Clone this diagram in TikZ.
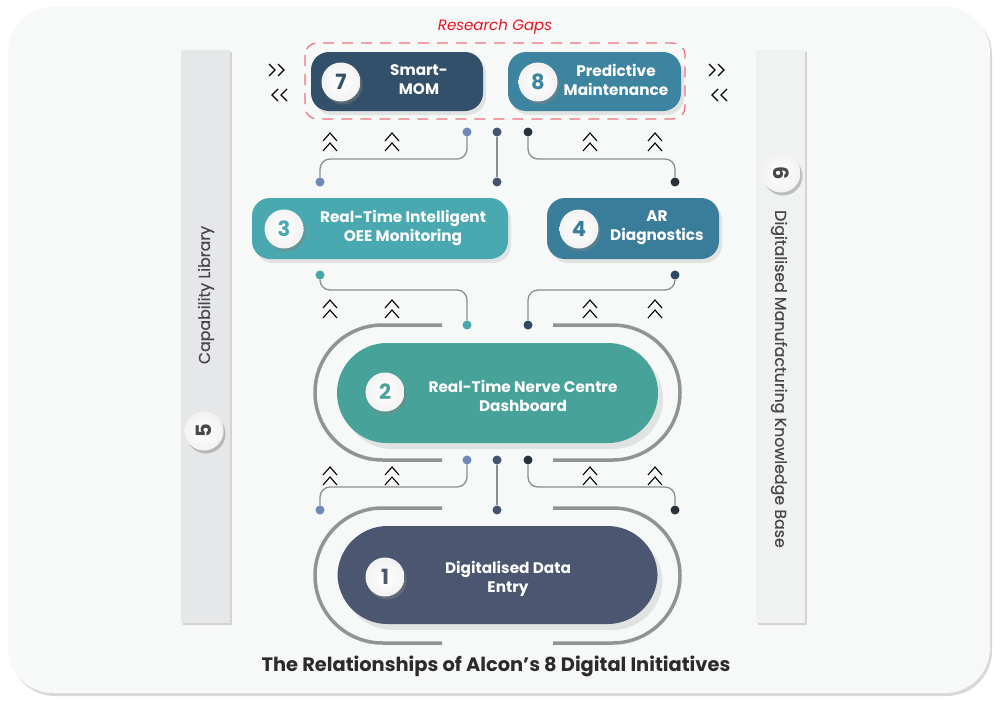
\documentclass[tikz,border=0pt]{standalone}
\usepackage{fontspec}
\setmainfont{Poppins}
\usetikzlibrary{shadows,calc}
\definecolor{bgc}{HTML}{F7F8F8}
\definecolor{barL}{HTML}{E6E7E8}
\definecolor{barR}{HTML}{F0F1F1}
\definecolor{cSeven}{HTML}{33506A}
\definecolor{cEight}{HTML}{3D84A1}
\definecolor{cThree}{HTML}{4AA9B0}
\definecolor{cFour}{HTML}{3A7D9B}
\definecolor{cTwo}{HTML}{47A29A}
\definecolor{cOne}{HTML}{4B5770}
\definecolor{dBlue}{HTML}{6F88B8}
\definecolor{dMid}{HTML}{46536F}
\definecolor{dDark}{HTML}{2A323C}
\definecolor{dTeal}{HTML}{46A8AE}
\definecolor{dNavy}{HTML}{2F4966}
\definecolor{lineG}{HTML}{8C8D90}
\definecolor{trackG}{HTML}{929395}
\definecolor{gapRed}{HTML}{E8131F}
\definecolor{dashRed}{HTML}{F07079}
\definecolor{barTxt}{HTML}{48484A}
\definecolor{titleTxt}{HTML}{2B2B2B}
\begin{document}
\begin{tikzpicture}[x=1pt,y=-1pt,
  boxstyle/.style={rectangle, rounded corners=18pt, inner sep=0pt,
    drop shadow={opacity=0.18, shadow xshift=3pt, shadow yshift=-4pt}},
  pill/.style={rectangle, rounded corners=50pt, inner sep=0pt,
    drop shadow={opacity=0.18, shadow xshift=5pt, shadow yshift=-6pt}},
  boxtxt/.style={text=white, align=center, font=\bfseries\fontsize{15.3}{19}\selectfont},
  badge/.style={circle, minimum size=39pt, inner sep=0pt, shading=radial,
    inner color=white, outer color=black!5,
    drop shadow={opacity=0.45, shadow xshift=2pt, shadow yshift=-3pt},
    font=\bfseries\fontsize{21}{21}\selectfont},
  dotn/.style={circle, minimum size=9pt, inner sep=0pt},
  conn/.style={draw=lineG, line width=1.3pt, rounded corners=10pt},
  track/.style={draw=trackG, line width=3.5pt, rounded corners=67.5pt},
  bar/.style={rectangle, inner sep=0pt, minimum width=49pt, minimum height=573pt,
    drop shadow={opacity=0.3, shadow xshift=2pt, shadow yshift=-2pt}},
  bartxt/.style={text=barTxt, font=\addfontfeatures{FakeBold=0.6}\fontsize{15.8}{17}\selectfont},
  chev/.style={draw=black, line width=1.1pt},
  pics/uchev/.style={code={
    \draw[chev] (-7,-1) -- (0,-9) -- (7,-1);
    \draw[chev] (-7,9) -- (0,1) -- (7,9);}},
  pics/rchev/.style={code={
    \draw[chev] (-9,-6) -- (-3,0) -- (-9,6);
    \draw[chev] (0,-6) -- (6,0) -- (0,6);}},
  pics/lchev/.style={code={
    \draw[chev] (9,-6) -- (3,0) -- (9,6);
    \draw[chev] (0,-6) -- (-6,0) -- (0,6);}}
]
\useasboundingbox (0,0) rectangle (1000,712);
% background panel
\path[fill=bgc, rounded corners=45pt,
  drop shadow={opacity=0.3, shadow xshift=2pt, shadow yshift=-3pt}]
  (8,7) rectangle (990,693);

% side bars
\node[bar, fill=barL] (lib) at (205.5,336.5) {};
\node[bar, fill=barR] (kb) at (780.5,336.5) {};
\node[bartxt, rotate=90] (libtxt) at (206,295) {Capability Library};
\node[bartxt, rotate=-90] (kbtxt) at (779,379) {Digitalised Manufacturing Knowledge Base};
\node[badge, text=barTxt, rotate=90] (b5) at (204,431) {5};
\node[badge, text=barTxt, rotate=-90] (b6) at (781,173) {6};

% research gaps
\node[text=gapRed, font=\itshape\fontsize{15}{15}\selectfont] (rg) at (495,27) {Research Gaps};
\draw[dashRed, line width=1.2pt, dash pattern=on 11pt off 8pt, rounded corners=12pt]
  (305,43) rectangle (685,119);

% boxes
\node[boxstyle, fill=cSeven, minimum width=172pt, minimum height=59pt] (box7) at (397,81.5) {};
\node[boxstyle, fill=cEight, minimum width=173pt, minimum height=59pt] (box8) at (594.5,81.5) {};
\node[boxtxt] (t7) at (419,79.5) {Smart-\\MOM};
\node[boxtxt] (t8) at (616,79.5) {Predictive\\Maintenance};
\node[badge, text=cSeven] (b7) at (341,82) {7};
\node[badge, text=cEight] (b8) at (538,82) {8};

\node[boxstyle, fill=cThree, minimum width=256pt, minimum height=61pt] (box3) at (380,228.5) {};
\node[boxstyle, fill=cFour, minimum width=172pt, minimum height=61pt] (box4) at (633,228.5) {};
\node[boxtxt] (t3) at (403,227.5) {Real-Time Intelligent\\OEE Monitoring};
\node[boxtxt] (t4) at (657,227.5) {AR\\Diagnostics};
\node[badge, text=cThree] (b3) at (284,229) {3};
\node[badge, text=cFour] (b4) at (579,229) {4};

\node[pill, fill=cTwo, minimum width=321pt, minimum height=100pt] (box2) at (497.5,393) {};
\node[boxtxt] (t2) at (523,395.5) {Real-Time Nerve Centre\\Dashboard};
\node[badge, text=cTwo] (b2) at (385,392) {2};

\node[pill, fill=cOne, minimum width=320pt, minimum height=98pt] (box1) at (497.5,575) {};
\node[boxtxt] (t1) at (508,578.5) {Digitalised Data\\Entry};
\node[badge, text=cOne] (b1) at (385,577) {1};

% tracks
\draw[track] (442,325) -- (315,325) -- (315,460) -- (442,460);
\draw[track] (553,325) -- (680,325) -- (680,460) -- (553,460);
\draw[track] (442,508) -- (315,508) -- (315,643) -- (442,643);
\draw[track] (553,508) -- (680,508) -- (680,643) -- (553,643);

% dots
\node[dotn, fill=dBlue] (p1) at (467,132) {};
\node[dotn, fill=dMid]  (p2) at (497,132) {};
\node[dotn, fill=dDark] (p3) at (528,132) {};
\node[dotn, fill=dBlue] (q1) at (320,182) {};
\node[dotn, fill=dMid]  (q2) at (497,182) {};
\node[dotn, fill=dDark] (q3) at (675,182) {};

\node[dotn, fill=dTeal] (m1) at (320,275) {};
\node[dotn, fill=dNavy] (m2) at (675,275) {};
\node[dotn, fill=dTeal] (m3) at (467,325) {};
\node[dotn, fill=dNavy] (m4) at (528,325) {};

\node[dotn, fill=dBlue] (u1) at (467,460) {};
\node[dotn, fill=dMid]  (u2) at (497,460) {};
\node[dotn, fill=dDark] (u3) at (528,460) {};
\node[dotn, fill=dBlue] (v1) at (320,510) {};
\node[dotn, fill=dMid]  (v2) at (497,510) {};
\node[dotn, fill=dDark] (v3) at (675,510) {};

% connectors
\draw[conn] (p1) -- ++(0,27) -| (q1);
\draw[conn] (p2) -- (q2);
\draw[conn] (p3) -- ++(0,27) -| (q3);
\draw[conn] (m1) -- ++(0,15) -| (m3);
\draw[conn] (m2) -- ++(0,15) -| (m4);
\draw[conn] (u1) -- ++(0,27) -| (v1);
\draw[conn] (u2) -- (v2);
\draw[conn] (u3) -- ++(0,27) -| (v3);

% chevrons
\foreach \cy in {142,309,476} {
  \foreach \cx in {330,392,590,655} {
    \pic at (\cx,\cy) {uchev};
  }
}
\pic at (278,70) {rchev};
\pic at (278,95) {lchev};
\pic at (718,70) {rchev};
\pic at (718,95) {lchev};

% title
\node[text=titleTxt, font=\bfseries\fontsize{19.4}{22}\selectfont] (title) at (496,666)
  {The Relationships of Alcon’s 8 Digital Initiatives};
\end{tikzpicture}
\end{document}
